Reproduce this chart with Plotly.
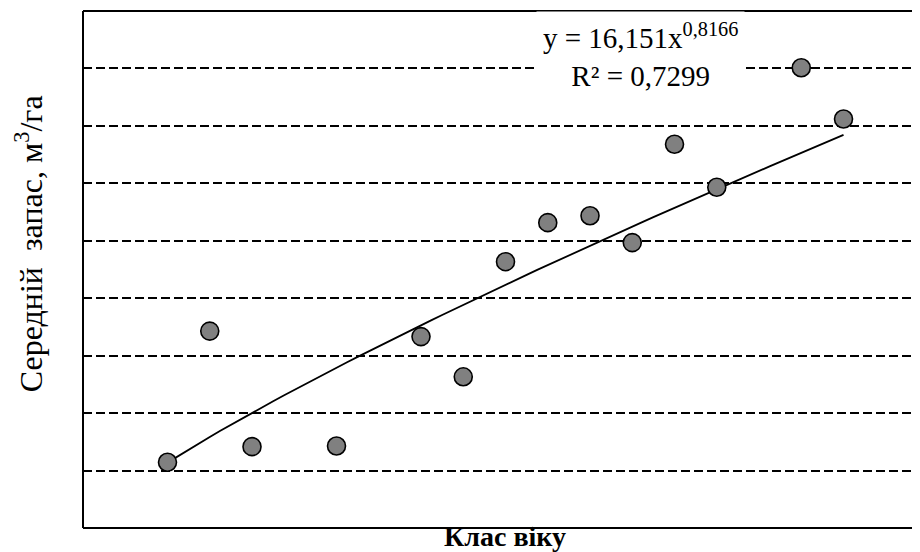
import plotly.graph_objects as go

# Data
age_class = [2, 3, 4, 6, 8, 9, 10, 11, 12, 13, 14, 15, 17, 18]
stock = [28.6, 85.7, 35.4, 35.7, 83.3, 65.8, 115.9, 132.9, 135.9, 124.2, 167.0, 148.3, 200.3, 178.0]

# Power trendline as shown on the chart: y = a * x^b
trend_a = 16.151
trend_b = 0.8166
trend_x = [2 + i * 0.25 for i in range(65)]
trend_y = [trend_a * x ** trend_b for x in trend_x]

x_title = "Клас віку"
y_title = "Середній  запас, м<sup>3</sup>/га"
eq_text = "y = 16,151x<sup>0,8166</sup><br>R² = 0,7299"

FONT = "Liberation Serif, Times New Roman, serif"

fig = go.Figure()
fig.add_trace(go.Scatter(x=trend_x, y=trend_y, mode="lines",
                         line=dict(color="black", width=1.8),
                         showlegend=False, hoverinfo="skip"))
fig.add_trace(go.Scatter(x=age_class, y=stock, mode="markers",
                         marker=dict(size=18, color="#808080",
                                     line=dict(color="black", width=1.6)),
                         showlegend=False))

fig.update_layout(
    width=920, height=552,
    margin=dict(l=75, r=8, t=3, b=32),
    paper_bgcolor="white", plot_bgcolor="white",
    font=dict(family=FONT, color="black"),
    xaxis=dict(range=[0, 19.81], showgrid=False, showticklabels=False,
               ticks="", zeroline=False, showline=False),
    yaxis=dict(range=[0, 225], dtick=25, tick0=0, showgrid=True,
               gridcolor="black", gridwidth=1.6, griddash="9px,4px",
               showticklabels=False, ticks="", zeroline=False, showline=False),
    shapes=[
        dict(type="line", xref="paper", yref="paper", x0=0, x1=0, y0=0, y1=1,
             line=dict(color="black", width=2)),
        dict(type="line", xref="paper", yref="paper", x0=0, x1=1, y0=1, y1=1,
             line=dict(color="black", width=2)),
        dict(type="line", xref="paper", yref="paper", x0=0, x1=1, y0=0, y1=0,
             line=dict(color="black", width=2)),
    ],
    annotations=[
        dict(text=eq_text, xref="paper", yref="paper", x=0.666, y=0.914,
             xanchor="center", yanchor="middle",
             showarrow=False, align="center", bgcolor="white",
             font=dict(size=29, family=FONT), borderpad=6),
        dict(text="<b>" + x_title + "</b>", xref="paper", yref="paper",
             x=0.504, y=0, xanchor="center", yanchor="middle", yshift=-8,
             showarrow=False, font=dict(size=28, family=FONT)),
        dict(text=y_title, xref="paper", yref="paper", textangle=-90,
             x=0, xshift=-54, y=0.549, xanchor="center", yanchor="middle",
             showarrow=False, font=dict(size=32, family=FONT)),
    ],
)

fig.write_html("out.html")
